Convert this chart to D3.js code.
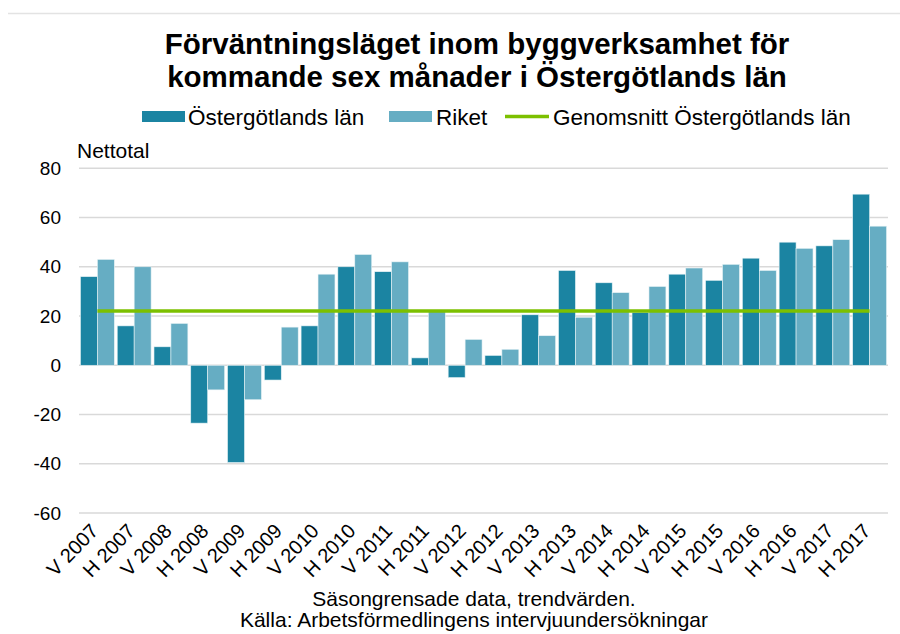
<!DOCTYPE html>
<html>
<head>
<meta charset="utf-8">
<script src="https://cdn.jsdelivr.net/npm/d3@7"></script>
<style>
  body { margin: 0; background: #fff; }
  svg { font-family: "Liberation Sans", Arial, sans-serif; }
</style>
</head>
<body>
<svg id="chart" width="900" height="634"></svg>
<script>
// perioder (V = vår, H = höst)
var periods = ["V 2007", "H 2007", "V 2008", "H 2008", "V 2009", "H 2009", "V 2010", "H 2010",
  "V 2011", "H 2011", "V 2012", "H 2012", "V 2013", "H 2013", "V 2014", "H 2014",
  "V 2015", "H 2015", "V 2016", "H 2016", "V 2017", "H 2017"];
var ostergotland = [36, 16, 7.5, -23.5, -39.5, -6, 16, 40, 38, 3, -5, 4,
  20.5, 38.5, 33.5, 21.5, 37, 34.5, 43.5, 50, 48.5, 69.5];
var riket = [43, 40, 17, -10, -14, 15.5, 37, 45, 42, 22, 10.5, 6.5,
  12, 19.5, 29.5, 32, 39.5, 41, 38.5, 47.5, 51, 56.5];
var genomsnitt = 22;
var yTicks = [-60, -40, -20, 0, 20, 40, 60, 80];

var svg = d3.select("#chart");
var dark = "#1b84a2", light = "#66adc3", green = "#7cc000";

// ram överst
svg.append("line").attr("x1", 8).attr("x2", 900).attr("y1", 13.5).attr("y2", 13.5)
  .attr("stroke", "#e3e3e3").attr("stroke-width", 1.5);

var x = d3.scaleBand().domain(periods).range([79, 888]).paddingInner(0).paddingOuter(0);
var xs = d3.scaleBand().domain(["o", "r"]).range([0, x.bandwidth()]).paddingInner(0).paddingOuter(0.085);
var y = d3.scaleLinear().domain([-60, 80]).range([513, 168.3]);

// rutnät
svg.append("g").selectAll("line").data(yTicks).join("line")
  .attr("x1", 79).attr("x2", 888)
  .attr("y1", function (d) { return y(d); }).attr("y2", function (d) { return y(d); })
  .attr("stroke", "#d9d9d9").attr("stroke-width", 1.5);

// y-axel
var yAxis = svg.append("g").attr("transform", "translate(61,0)")
  .call(d3.axisLeft(y).tickValues(yTicks).tickSize(0).tickPadding(0)
    .tickFormat(function (d) { return String(d); }));
yAxis.select(".domain").remove();
yAxis.selectAll("text").attr("font-size", 19).attr("fill", "#000")
  .attr("font-family", "Liberation Sans, Arial, sans-serif");

svg.append("text").attr("x", 77).attr("y", 158).attr("font-size", 21).text("Nettotal");

// staplar
var g = svg.append("g").selectAll("g").data(periods).join("g")
  .attr("transform", function (d) { return "translate(" + x(d) + ",0)"; });

g.append("rect")
  .attr("x", xs("o")).attr("width", xs.bandwidth())
  .attr("y", function (d, i) { return y(Math.max(0, ostergotland[i])); })
  .attr("height", function (d, i) { return Math.abs(y(ostergotland[i]) - y(0)); })
  .attr("fill", dark).attr("stroke", "#e8f3f6").attr("stroke-width", 0.6);

g.append("rect")
  .attr("x", xs("r")).attr("width", xs.bandwidth())
  .attr("y", function (d, i) { return y(Math.max(0, riket[i])); })
  .attr("height", function (d, i) { return Math.abs(y(riket[i]) - y(0)); })
  .attr("fill", light).attr("stroke", "#e8f3f6").attr("stroke-width", 0.6);

// genomsnittslinje
var first = periods[0], last = periods[periods.length - 1];
svg.append("line")
  .attr("x1", x(first) + x.bandwidth() / 2).attr("x2", x(last) + x.bandwidth() / 2)
  .attr("y1", y(genomsnitt)).attr("y2", y(genomsnitt))
  .attr("stroke", green).attr("stroke-width", 3.5);

// x-etiketter
svg.append("g").selectAll("text").data(periods).join("text")
  .attr("transform", function (d) {
    return "translate(" + (x(d) + x.bandwidth() / 2 + 2) + ",532) rotate(-46)";
  })
  .attr("text-anchor", "end").attr("font-size", 20).text(function (d) { return d; });

// titel
var title = svg.append("text").attr("text-anchor", "middle").attr("font-size", 29.5)
  .attr("font-weight", "bold");
title.append("tspan").attr("x", 477).attr("y", 54).text("Förväntningsläget inom byggverksamhet för");
title.append("tspan").attr("x", 477).attr("y", 87).text("kommande sex månader i Östergötlands län");

// förklaring
var legend = svg.append("g").attr("font-size", 22.5);
legend.append("rect").attr("x", 142).attr("y", 111).attr("width", 43).attr("height", 11).attr("fill", dark);
legend.append("text").attr("x", 188).attr("y", 125).text("Östergötlands län");
legend.append("rect").attr("x", 389).attr("y", 111).attr("width", 43).attr("height", 11).attr("fill", light);
legend.append("text").attr("x", 436).attr("y", 125).text("Riket");
legend.append("line").attr("x1", 505).attr("x2", 549).attr("y1", 116.5).attr("y2", 116.5)
  .attr("stroke", green).attr("stroke-width", 3.5);
legend.append("text").attr("x", 553).attr("y", 125).text("Genomsnitt Östergötlands län");

// källa
var cap = svg.append("g").attr("text-anchor", "middle").attr("font-size", 21);
cap.append("text").attr("x", 474).attr("y", 606).text("Säsongrensade data, trendvärden.");
cap.append("text").attr("x", 474).attr("y", 627).text("Källa: Arbetsförmedlingens  intervjuundersökningar");
</script>
</body>
</html>
